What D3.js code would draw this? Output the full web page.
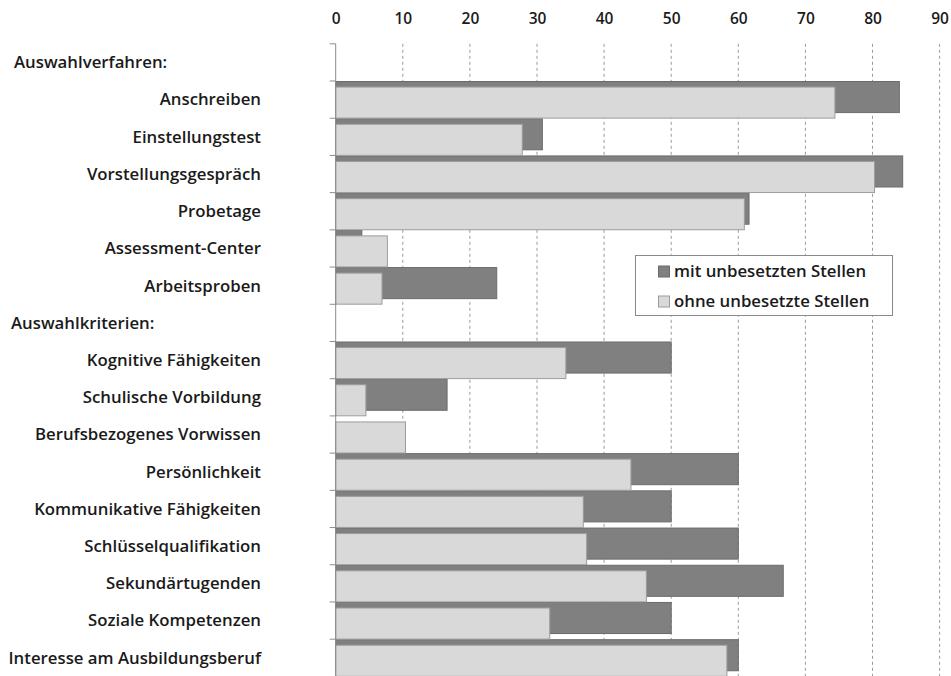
<!DOCTYPE html>
<html>
<head>
<meta charset="utf-8">
<script src="https://cdn.jsdelivr.net/npm/d3@7"></script>
<style>
  html, body { margin: 0; padding: 0; background: #fff; }
  svg { display: block; }
  text { font-family: "Open Sans", sans-serif; font-weight: 600; fill: #1a1a1a; }
</style>
</head>
<body>
<svg id="chart" width="951" height="676"></svg>
<script>
// ---- data ----
const categories = [
  "Auswahlverfahren:",
  "Anschreiben",
  "Einstellungstest",
  "Vorstellungsgespräch",
  "Probetage",
  "Assessment-Center",
  "Arbeitsproben",
  "Auswahlkriterien:",
  "Kognitive Fähigkeiten",
  "Schulische Vorbildung",
  "Berufsbezogenes Vorwissen",
  "Persönlichkeit",
  "Kommunikative Fähigkeiten",
  "Schlüsselqualifikation",
  "Sekundärtugenden",
  "Soziale Kompetenzen",
  "Interesse am Ausbildungsberuf"
];
const headers = ["Auswahlverfahren:", "Auswahlkriterien:"];
const mitValues  = [null, 84.0, 30.8, 84.5, 61.6, 3.9, 24.0, null, 50.0, 16.6, 0, 60.0, 50.0, 60.0, 66.7, 50.0, 60.0];
const ohneValues = [null, 74.4, 27.8, 80.3, 60.9, 7.7, 6.9, null, 34.3, 4.5, 10.4, 44.0, 36.9, 37.4, 46.3, 31.9, 58.3];
const tickValues = [0, 10, 20, 30, 40, 50, 60, 70, 80, 90];
const seriesNames = ["mit unbesetzten Stellen", "ohne unbesetzte Stellen"];

// ---- scales ----
const svg = d3.select("#chart");
const x = d3.scaleLinear().domain([0, 90]).range([335.7, 939.6]);
const y = d3.scaleBand().domain(categories).range([43.8, 676.4]).paddingInner(0).paddingOuter(0);
const bw = y.bandwidth();
const barH = bw * 0.835;
const lightOff = bw * 0.162;

// ---- gridlines ----
svg.append("g").selectAll("line")
  .data(tickValues.filter(v => v > 0))
  .join("line")
  .attr("x1", d => x(d)).attr("x2", d => x(d))
  .attr("y1", y.range()[0]).attr("y2", 676)
  .attr("stroke", "#9a9a9a")
  .attr("stroke-width", 1)
  .attr("stroke-dasharray", "3,3");

// ---- top axis ----
const topAxis = svg.append("g")
  .attr("transform", "translate(0,24)")
  .call(d3.axisTop(x).tickValues(tickValues).tickSize(0).tickPadding(0).tickFormat(d3.format("d")));
topAxis.select(".domain").remove();
topAxis.selectAll("text")
  .attr("font-family", "'Open Sans', sans-serif")
  .attr("font-weight", 600)
  .attr("font-size", 15.5)
  .attr("fill", "#1a1a1a");

// ---- bars ----
const rows = categories.map((c, i) => ({ c, mit: mitValues[i], ohne: ohneValues[i] }));

svg.append("g").selectAll("rect")
  .data(rows.filter(d => d.mit != null && d.mit > 0))
  .join("rect")
  .attr("x", x(0))
  .attr("y", d => y(d.c) + 0.5)
  .attr("width", d => x(d.mit) - x(0))
  .attr("height", barH)
  .attr("fill", "#808080")
  .attr("stroke", "#6b6b6b")
  .attr("stroke-width", 1);

svg.append("g").selectAll("rect")
  .data(rows.filter(d => d.ohne != null && d.ohne > 0))
  .join("rect")
  .attr("x", x(0))
  .attr("y", d => y(d.c) + lightOff)
  .attr("width", d => x(d.ohne) - x(0))
  .attr("height", barH)
  .attr("fill", "#d9d9d9")
  .attr("stroke", "#9c9c9c")
  .attr("stroke-width", 1);

// ---- left axis line + boundary ticks ----
const axisG = svg.append("g").attr("stroke", "#8c8c8c").attr("stroke-width", 1);
axisG.append("line")
  .attr("x1", x(0)).attr("x2", x(0))
  .attr("y1", y.range()[0]).attr("y2", 676);
axisG.selectAll("line.tick")
  .data(categories)
  .join("line")
  .attr("class", "tick")
  .attr("x1", x(0) - 6).attr("x2", x(0))
  .attr("y1", d => y(d)).attr("y2", d => y(d));

// ---- category labels ----
svg.append("g").selectAll("text")
  .data(categories)
  .join("text")
  .attr("x", d => headers.includes(d) ? (d === headers[0] ? 14 : 11) : 261)
  .attr("y", d => y(d) + bw / 2)
  .attr("dy", "0.35em")
  .attr("text-anchor", d => headers.includes(d) ? "start" : "end")
  .attr("font-size", 16.8)
  .text(d => d);

// ---- legend ----
const leg = svg.append("g");
leg.append("rect")
  .attr("x", 635.5).attr("y", 255.5)
  .attr("width", 257).attr("height", 60)
  .attr("fill", "#fff")
  .attr("stroke", "#8a8a8a");
const legColors = [["#808080", "#6b6b6b"], ["#d9d9d9", "#9c9c9c"]];
const legItems = leg.selectAll("g.item")
  .data(seriesNames)
  .join("g")
  .attr("class", "item")
  .attr("transform", (d, i) => `translate(658, ${271.5 + i * 30})`);
legItems.append("rect")
  .attr("x", 0.5).attr("y", -5.5)
  .attr("width", 11).attr("height", 11)
  .attr("fill", (d, i) => legColors[i][0])
  .attr("stroke", (d, i) => legColors[i][1]);
legItems.append("text")
  .attr("x", 16).attr("y", 0)
  .attr("dy", "0.35em")
  .attr("font-size", 16.8)
  .text(d => d);
</script>
</body>
</html>
